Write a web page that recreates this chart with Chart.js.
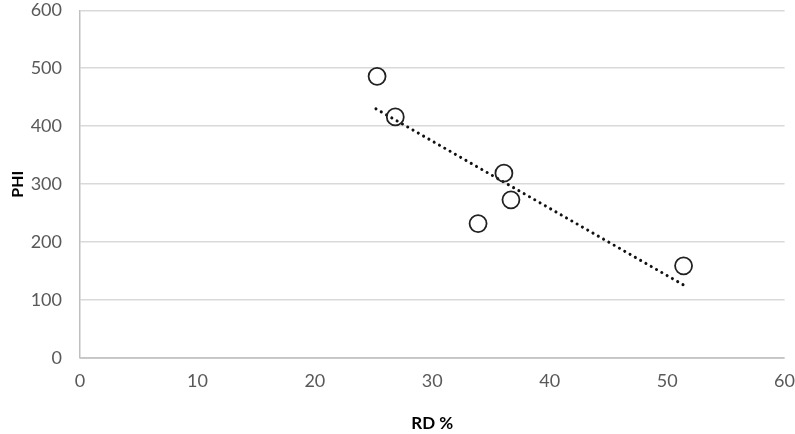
<!DOCTYPE html>
<html>
<head>
<meta charset="utf-8">
<script src="https://cdn.jsdelivr.net/npm/chart.js@4/dist/chart.umd.min.js"></script>
<style>
  html, body { margin: 0; padding: 0; background: #fff; }
  #wrap { width: 795px; height: 434px; }
</style>
</head>
<body>
<div id="wrap"><canvas id="grafico" width="795" height="434"></canvas></div>
<script>
// ===== dados =====
const rd = [25.3, 26.85, 36.1, 36.7, 33.9, 51.4];
const phi = [486, 416, 319, 273, 232, 159];
// linha de tendência
const trendX = [25.2, 51.4];
const trendY = [430, 126];
const xTicks = [0, 10, 20, 30, 40, 50, 60];
const yTicks = [0, 100, 200, 300, 400, 500, 600];

const fonte = "Lato, 'Open Sans', sans-serif";

const pontos = rd.map((x, i) => ({ x: x, y: phi[i] }));
const tendencia = trendX.map((x, i) => ({ x: x, y: trendY[i] }));

new Chart(document.getElementById("grafico"), {
  type: "scatter",
  data: {
    datasets: [
      {
        label: "PHI",
        data: pontos,
        pointRadius: 8.5,
        pointBorderWidth: 1.8,
        pointBorderColor: "#222",
        pointBackgroundColor: "rgba(255,255,255,0)",
        showLine: false,
        order: 1
      },
      {
        label: "Tendência",
        data: tendencia,
        showLine: true,
        pointRadius: 0,
        borderColor: "#111",
        borderWidth: 3,
        borderDash: [0.1, 6],
        borderCapStyle: "round",
        order: 2
      }
    ]
  },
  options: {
    responsive: false,
    animation: false,
    layout: { padding: 0 },
    plugins: { legend: { display: false }, tooltip: { enabled: false } },
    scales: {
      x: {
        type: "linear",
        min: 0, max: 60,
        afterBuildTicks: s => { s.ticks = xTicks.map(v => ({ value: v })); },
        afterFit: s => { s.height = 76; },
        // marcas invisíveis só para afastar os rótulos do eixo
        grid: { display: true, drawOnChartArea: false, drawTicks: true, tickLength: 14, tickColor: "rgba(0,0,0,0)", color: "rgba(0,0,0,0)" },
        border: { display: false },
        ticks: { color: "#595959", font: { family: fonte, size: 18, lineHeight: 1 }, padding: 0 },
        title: { display: true, text: "RD %", color: "#000", font: { family: fonte, size: 17, weight: "bold" }, padding: { top: 0, bottom: 0 } }
      },
      y: {
        type: "linear",
        min: 0, max: 600,
        afterBuildTicks: s => { s.ticks = yTicks.map(v => ({ value: v })); },
        afterFit: s => { s.width = 80; },
        grid: { color: "#d9d9d9", lineWidth: 1.5, drawTicks: true, tickLength: 18, tickColor: "rgba(0,0,0,0)" },
        border: { display: true, color: "#bfbfbf", width: 1.5 },
        ticks: { color: "#595959", font: { family: fonte, size: 18, lineHeight: 0.85 }, padding: 0 },
        title: { display: true, text: "PHI", color: "#000", font: { family: fonte, size: 16, weight: "bold" }, padding: { top: 8, bottom: 8 } }
      }
    }
  },
  plugins: [{
    id: "eixoX",
    afterDraw(chart) {
      // linha do eixo x em y = 0
      const c = chart.ctx, a = chart.chartArea;
      c.save();
      c.strokeStyle = "#bfbfbf";
      c.lineWidth = 1.5;
      c.beginPath();
      c.moveTo(a.left, a.bottom);
      c.lineTo(a.right, a.bottom);
      c.stroke();
      c.restore();
    }
  }]
});
</script>
</body>
</html>
